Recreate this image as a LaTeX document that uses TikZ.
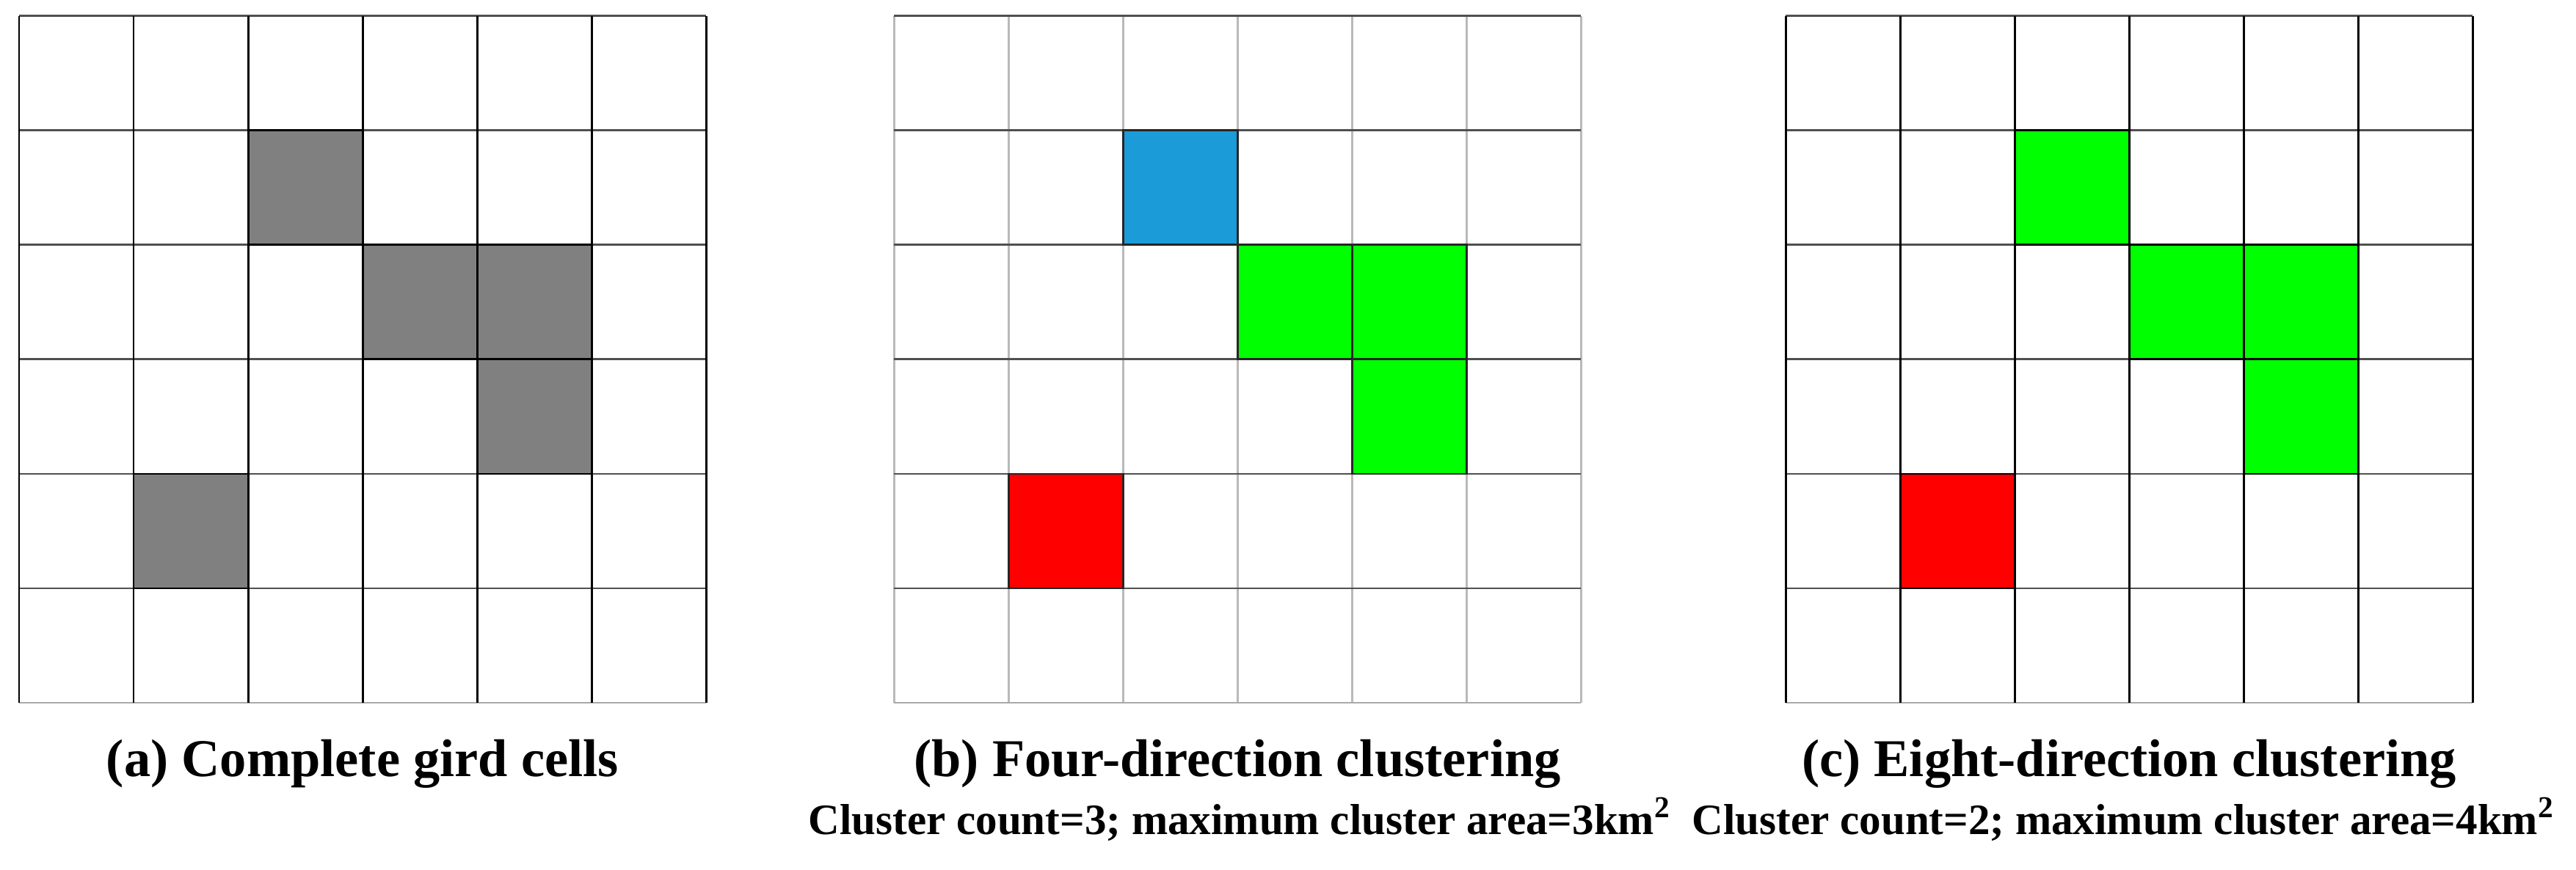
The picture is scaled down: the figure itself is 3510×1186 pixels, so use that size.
\documentclass[tikz,border=0pt]{standalone}
\usepackage{fontspec}
\setmainfont{Liberation Serif}
\definecolor{cellgray}{RGB}{128,128,128}
\definecolor{cellblue}{RGB}{27,155,215}
\definecolor{cellgreen}{RGB}{0,255,0}
\definecolor{cellred}{RGB}{255,0,0}
\definecolor{hgray}{RGB}{80,80,80}
\definecolor{vlight}{RGB}{185,185,185}
\definecolor{edgegray}{RGB}{170,170,170}
\begin{document}
\begin{tikzpicture}[x=0.01cm,y=-0.01cm,
  gl/.style={line width=0.85pt},
  capt/.style={font=\fontsize{20.6}{24}\selectfont\bfseries, anchor=base, inner sep=0pt},
  subt/.style={font=\fontsize{16.8}{20}\selectfont\bfseries, anchor=base, inner sep=0pt}]
\useasboundingbox (0,0) rectangle (3510,1186);
\fill[white] (0,0) rectangle (3510,1186);
\def\S{156}
\def\T{22}
% ---------- grid (a) ----------
\def\X{26}
\foreach \r/\c in {1/2,2/3,2/4,3/4,4/1}
  \fill[cellgray] ({\X+\c*\S},{\T+\r*\S}) rectangle ++(\S,\S);
\foreach \i in {0,...,5}
  \draw[hgray,gl] (\X,{\T+\i*\S}) -- ++({6*\S},0);
\draw[edgegray,gl] (\X,{\T+6*\S}) -- ++({6*\S},0);
\foreach \i in {0,...,6}
  \draw[black,gl] ({\X+\i*\S},\T) -- ++(0,{6*\S});
\foreach \r/\c in {1/2,2/3,2/4,3/4,4/1}
  \draw[black,gl] ({\X+\c*\S},{\T+\r*\S}) rectangle ++(\S,\S);
% ---------- grid (b) ----------
\def\X{1218}
\fill[cellblue] ({\X+2*\S},{\T+1*\S}) rectangle ++(\S,\S);
\foreach \r/\c in {2/3,2/4,3/4}
  \fill[cellgreen] ({\X+\c*\S},{\T+\r*\S}) rectangle ++(\S,\S);
\fill[cellred] ({\X+1*\S},{\T+4*\S}) rectangle ++(\S,\S);
\foreach \i in {0,...,6}
  \draw[vlight,gl] ({\X+\i*\S},\T) -- ++(0,{6*\S});
\foreach \i in {0,...,5}
  \draw[hgray,gl] (\X,{\T+\i*\S}) -- ++({6*\S},0);
\draw[edgegray,gl] (\X,{\T+6*\S}) -- ++({6*\S},0);
\foreach \r/\c in {1/2,2/3,2/4,3/4,4/1}
  \draw[black!85,gl] ({\X+\c*\S},{\T+\r*\S}) rectangle ++(\S,\S);
% ---------- grid (c) ----------
\def\X{2433}
\foreach \r/\c in {1/2,2/3,2/4,3/4}
  \fill[cellgreen] ({\X+\c*\S},{\T+\r*\S}) rectangle ++(\S,\S);
\fill[cellred] ({\X+1*\S},{\T+4*\S}) rectangle ++(\S,\S);
\foreach \i in {0,...,5}
  \draw[hgray,gl] (\X,{\T+\i*\S}) -- ++({6*\S},0);
\draw[edgegray,gl] (\X,{\T+6*\S}) -- ++({6*\S},0);
\foreach \i in {0,...,6}
  \draw[black,gl] ({\X+\i*\S},\T) -- ++(0,{6*\S});
\foreach \r/\c in {1/2,2/3,2/4,3/4,4/1}
  \draw[black,gl] ({\X+\c*\S},{\T+\r*\S}) rectangle ++(\S,\S);
% ---------- captions ----------
\node[capt] (capa) at (494,1058) {(a) Complete gird cells};
\node[capt] (capb) at (1686,1058) {(b) Four-direction clustering};
\node[capt] (capc) at (2901,1058) {(c) Eight-direction clustering};
\node[subt] (subb) at (1689,1137) {Cluster count=3; maximum cluster area=3km\textsuperscript{2}};
\node[subt] (subc) at (2893,1137) {Cluster count=2; maximum cluster area=4km\textsuperscript{2}};
\end{tikzpicture}
\end{document}
